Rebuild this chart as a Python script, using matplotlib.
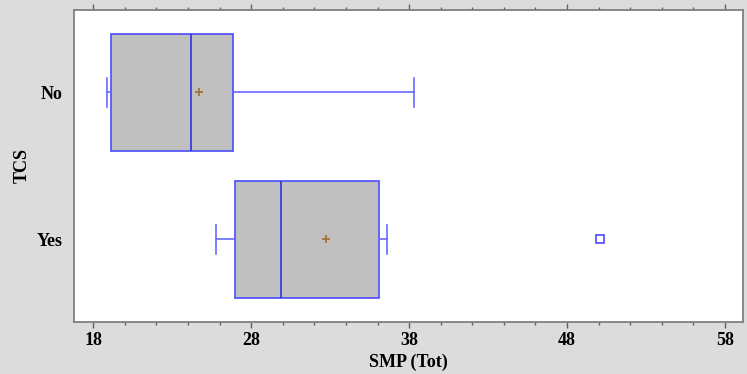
import matplotlib
matplotlib.use("Agg")
import matplotlib.pyplot as plt
from matplotlib.ticker import MultipleLocator

# Summary statistics of SMP (Tot) by TCS group
groups = ["No", "Yes"]
q1 = [19.15, 27.0]
median = [24.2, 29.9]
q3 = [26.85, 36.1]
whisker_low = [18.85, 25.8]
whisker_high = [38.3, 36.6]
means = [24.7, 32.75]
outliers = [[], [50.1]]

x_ticks = [18, 28, 38, 48, 58]

plt.rcParams["font.family"] = ["Liberation Serif", "DejaVu Serif"]
plt.rcParams["font.weight"] = "bold"

fig = plt.figure(figsize=(7.47, 3.74), dpi=100, facecolor="#dcdcdc")
ax = fig.add_axes([74 / 747, 1 - 321.7 / 374, (743.3 - 74) / 747, (321.7 - 10) / 374])
ax.set_facecolor("white")

stats = []
for i, g in enumerate(groups):
    stats.append(dict(label=g, q1=q1[i], med=median[i], q3=q3[i],
                      whislo=whisker_low[i], whishi=whisker_high[i],
                      mean=means[i], fliers=outliers[i]))

edge = "#4c4cff"
ax.bxp(stats, positions=[0, 1], widths=0.8, orientation="horizontal",
       patch_artist=True, showmeans=True, capwidths=0.2,
       boxprops=dict(facecolor="#c0c0c0", edgecolor=edge, linewidth=1.2),
       medianprops=dict(color="#3232e6", linewidth=1.2),
       whiskerprops=dict(color="#6a6aff", linewidth=1.2),
       capprops=dict(color="#6a6aff", linewidth=1.2),
       meanprops=dict(marker="+", markeredgecolor="#a8703c", markersize=6,
                      markeredgewidth=1.3),
       flierprops=dict(marker="s", markerfacecolor="none", markeredgecolor=edge,
                       markersize=5.5, markeredgewidth=1.2))

ax.set_xlim(16.78, 59.16)
ax.set_ylim(1.56, -0.56)
ax.set_xticks(x_ticks)
ax.set_xticklabels([str(t) for t in x_ticks])
ax.xaxis.set_minor_locator(MultipleLocator(2))
ax.set_yticks([0, 1])
ax.set_yticklabels(groups)

for s in ax.spines.values():
    s.set_color("#808080")
    s.set_linewidth(1.3)

ax.tick_params(axis="x", which="major", direction="out", length=4.5, width=1,
               color="#606060", labelsize=13, pad=3, top=True, labeltop=False)
ax.tick_params(axis="x", which="minor", direction="out", length=2.2, width=1,
               color="#606060", top=True)
ax.tick_params(axis="y", length=0, labelsize=13, pad=8.5)

ax.set_xlabel("SMP (Tot)", fontsize=13, fontweight="bold", labelpad=3)
ax.set_ylabel("TCS", fontsize=13, fontweight="bold", labelpad=4)

fig.savefig("out.png", dpi=100, facecolor=fig.get_facecolor())
